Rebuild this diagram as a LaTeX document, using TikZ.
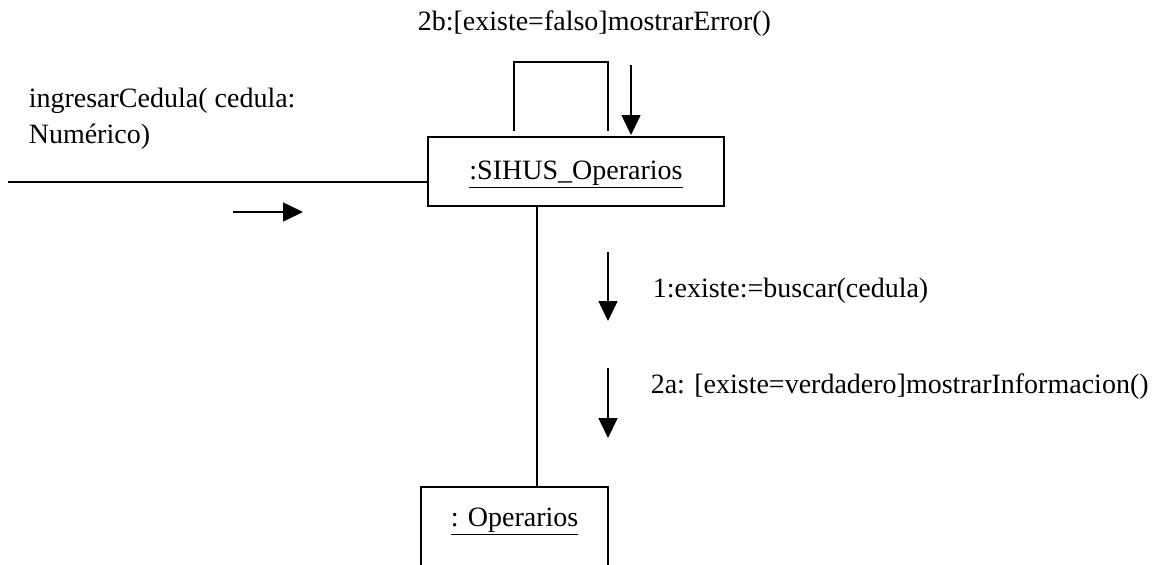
\documentclass[tikz,border=0pt]{standalone}
\usepackage{fontspec}
\setmainfont{Liberation Serif}
\usetikzlibrary{arrows.meta,positioning}

\begin{document}
\begin{tikzpicture}[x=0.5pt,y=-0.5pt,font=\fontsize{14}{18}\selectfont,line width=0.8pt,
  >={Triangle[length=10pt,width=9.5pt]},
  obj/.style={draw,inner xsep=0pt,inner ysep=0pt,anchor=base},
  lbl/.style={anchor=base west,inner sep=0pt,align=left}]
\useasboundingbox (0,0) rectangle (1166,564);
\node[obj,minimum width=148pt,text height=21pt,text depth=13.5pt] (sihus) at (576,179) {\underline{:SIHUS\_Operarios}};
\node[obj,minimum width=93.5pt,text height=19.5pt,text depth=25pt] (oper) at (514.5,526) {\underline{: Operarios}};
\coordinate (link) at (537,0);
\draw (sihus.south -| link) -- (oper.north -| link);
\coordinate (loopL) at (514,62);
\coordinate (loopR) at (608,62);
\draw[shorten <=2.5pt,shorten >=2.5pt] (sihus.north -| loopL) -- (loopL) -- (loopR) -- (sihus.north -| loopR);
\coordinate (actor) at (8,182);
\draw (actor) -- (actor -| sihus.west);
% messages
\coordinate (m0) at (233,212); \draw[->] (m0) -- ++(70,0);
\coordinate (m2b) at (631,65); \draw[->] (m2b) -- ++(0,70);
\coordinate (m1) at (608,252); \draw[->] (m1) -- ++(0,69);
\coordinate (m2a) at (608,368); \draw[->] (m2a) -- ++(0,70);
\node[lbl] (l0) at (28,143) {ingresarCedula( cedula:\\Numérico)};
\node[lbl] (l2b) at (417,30) {2b:[existe=falso]mostrarError()};
\node[lbl] (l1) at (652,297) {1:existe:=buscar(cedula)};
\node[lbl] (l2a) at (650,393) {2a: [existe=verdadero]mostrarInformacion()};
\end{tikzpicture}
\end{document}
